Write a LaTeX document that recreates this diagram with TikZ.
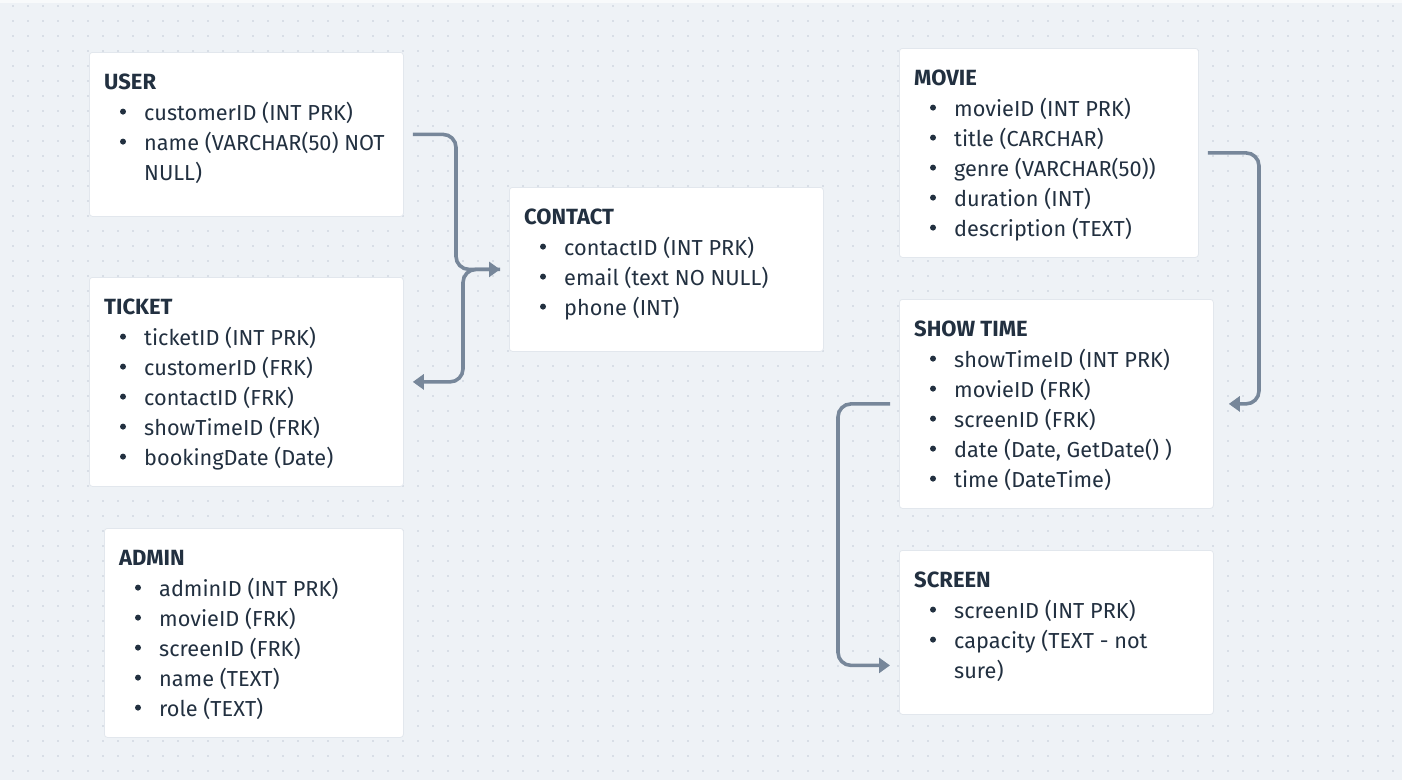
\documentclass[tikz,border=0pt]{standalone}
\usepackage{fontspec}
\setmainfont{Fira Sans}
\usetikzlibrary{arrows.meta,calc}
\definecolor{bg}{HTML}{EEF2F6}
\definecolor{dotc}{HTML}{C3CBD6}
\definecolor{txt}{HTML}{223040}
\definecolor{conn}{HTML}{77879A}
\definecolor{edge}{HTML}{E2E7ED}
\tikzset{
  box/.style={draw=edge,line width=0.8pt,fill=white,rounded corners=3pt,anchor=north west,inner sep=0pt},
  ttl/.style={anchor=base west,inner sep=0pt,text=txt,font=\fontsize{22}{26}\selectfont\bfseries},
  itm/.style={anchor=base west,inner sep=0pt,text=txt,font=\fontsize{21.7}{26}\selectfont},
  connector/.style={draw=conn,line width=3.6pt,rounded corners=13pt,-{Triangle[length=11pt,width=15pt]}},
}
\newcommand\entbox[6]{% name, x1, y1, x2, y2, title
  \node[box,minimum width={(#4-#2)*1pt},minimum height={(#5-#3)*1pt}] (#1) at (#2,#3) {};
  \node[ttl] (#1-t) at ([xshift=15pt,yshift=-37pt]#1.north west) {#6};
}
\newcommand\entrow[4]{% box, row index, bullet?, text
  \node[itm] (#1-r#2) at ([xshift=55pt,yshift={-(68+30*#2)*1pt}]#1.north west) {#4};
  \ifnum#3=1 \fill[txt] ([xshift=34pt,yshift={-(68+30*#2-8.4)*1pt}]#1.north west) circle (3pt);\fi
}
\begin{document}
\begin{tikzpicture}[x=1pt,y=-1pt]
\fill[bg] (0,0) rectangle (1402,780);
\useasboundingbox (0,0) rectangle (1402,780);
\fill[white!60!bg] (0,0) rectangle (1402,2.5);
\foreach \x in {13,28,...,1402} \foreach \y in {6,21,...,780} \fill[dotc] (\x,\y) circle (0.9pt);

\entbox{user}{89}{52}{403}{216}{USER}
\entrow{user}{0}{1}{customerID (INT PRK)}
\entrow{user}{1}{1}{name (VARCHAR(50) NOT}
\entrow{user}{2}{0}{NULL)}

\entbox{ticket}{89}{277}{403}{486}{TICKET}
\entrow{ticket}{0}{1}{ticketID (INT PRK)}
\entrow{ticket}{1}{1}{customerID (FRK)}
\entrow{ticket}{2}{1}{contactID (FRK)}
\entrow{ticket}{3}{1}{showTimeID (FRK)}
\entrow{ticket}{4}{1}{bookingDate (Date)}

\entbox{admin}{104}{528}{403}{737}{ADMIN}
\entrow{admin}{0}{1}{adminID (INT PRK)}
\entrow{admin}{1}{1}{movieID (FRK)}
\entrow{admin}{2}{1}{screenID (FRK)}
\entrow{admin}{3}{1}{name (TEXT)}
\entrow{admin}{4}{1}{role (TEXT)}

\entbox{contact}{509}{187}{823}{351}{CONTACT}
\entrow{contact}{0}{1}{contactID (INT PRK)}
\entrow{contact}{1}{1}{email (text NO NULL)}
\entrow{contact}{2}{1}{phone (INT)}

\entbox{movie}{899}{48}{1198}{257}{MOVIE}
\entrow{movie}{0}{1}{movieID (INT PRK)}
\entrow{movie}{1}{1}{title (CARCHAR)}
\entrow{movie}{2}{1}{genre (VARCHAR(50))}
\entrow{movie}{3}{1}{duration (INT)}
\entrow{movie}{4}{1}{description (TEXT)}

\entbox{showtime}{899}{299}{1213}{508}{SHOW TIME}
\entrow{showtime}{0}{1}{showTimeID (INT PRK)}
\entrow{showtime}{1}{1}{movieID (FRK)}
\entrow{showtime}{2}{1}{screenID (FRK)}
\entrow{showtime}{3}{1}{date (Date, GetDate() )}
\entrow{showtime}{4}{1}{time (DateTime)}

\entbox{screen}{899}{550}{1213}{714}{SCREEN}
\entrow{screen}{0}{1}{screenID (INT PRK)}
\entrow{screen}{1}{1}{capacity (TEXT - not}
\entrow{screen}{2}{0}{sure)}

% connectors
\coordinate (ct) at ([xshift=-9pt]contact.west);
\coordinate (tt) at ([xshift=9pt]ticket.east);
\coordinate (us) at ([xshift=9pt]user.east);
\coordinate (bx1) at (456,0);
\coordinate (bx2) at (463,0);
\draw[connector] (us) -| (bx1 |- ct) -- (ct);
\draw[connector] (ct) -| (bx2 |- tt) -- (tt);

\coordinate (ms) at ([xshift=9pt]movie.east);
\coordinate (se) at ([xshift=15pt]showtime.east);
\coordinate (bx3) at (1259,0);
\draw[connector] (ms) -| (bx3 |- se) -- (se);

\coordinate (sw) at ([xshift=-9pt]showtime.west);
\coordinate (sc) at ([xshift=-9pt,yshift=-33pt]screen.west);
\coordinate (bx4) at (838,0);
\draw[connector] (sw) -| (bx4 |- sc) -- (sc);
\end{tikzpicture}
\end{document}
